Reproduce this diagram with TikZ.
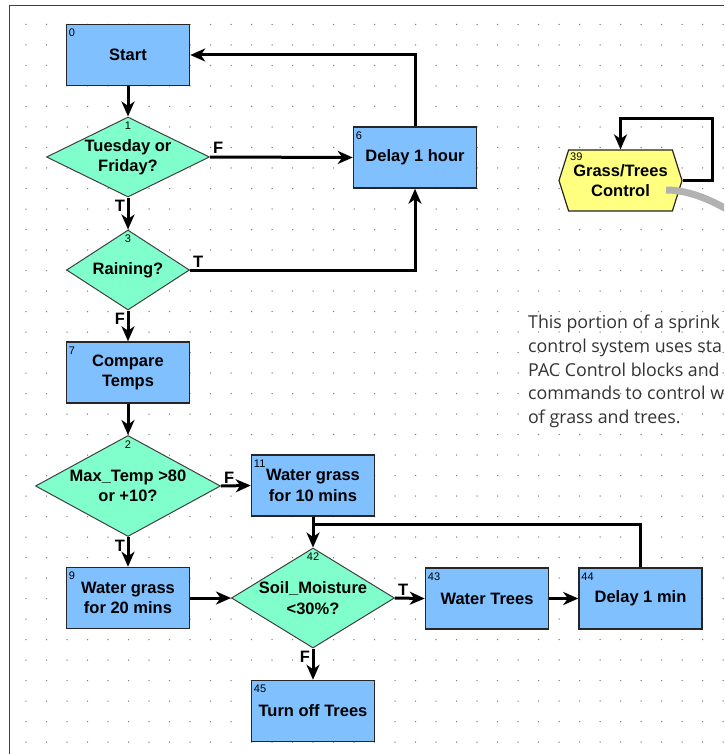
\documentclass[tikz,border=0pt]{standalone}
\usepackage{fontspec}
\setmainfont{Liberation Sans}
\newfontfamily\notefont{Open Sans}
\usetikzlibrary{arrows.meta, shapes.geometric, shapes.symbols}

\definecolor{blockblue}{RGB}{128,192,255}
\definecolor{condgreen}{RGB}{128,255,204}
\definecolor{chartyellow}{RGB}{255,255,128}
\newcommand{\blockfont}{\fontsize{16.5}{20.5}\selectfont\bfseries}

\begin{document}
\begin{tikzpicture}[
            x=1pt, y=-1pt,
            >={Stealth[length=15pt, width=13pt, inset=4.5pt]},
            block/.style={draw=black!85, line width=1.5pt, fill=blockblue, minimum width=123pt, minimum height=61pt, inner sep=0pt, align=center, font=\blockfont},
            cond/.style={diamond, draw=black!75, line width=1pt, fill=condgreen, inner sep=0pt},
            cond text/.style={align=center, inner sep=0pt, font=\blockfont},
            chart/.style={signal, signal to=west and east, signal pointer angle=145, draw=black!85, line width=1.2pt, fill=chartyellow, minimum width=123pt, minimum height=61pt, inner sep=0pt, align=center, font=\blockfont},
            num/.style={font=\fontsize{11}{11}\selectfont, inner xsep=3pt, inner ysep=5pt},
            flow/.style={->, line width=3pt},
            link/.style={line width=3pt},
            branch/.style={font=\fontsize{16.5}{16.5}\selectfont\bfseries, inner sep=1.5pt},
            note/.style={font=\notefont\fontsize{17.8}{23.7}\selectfont, text=black!80, align=left, inner sep=0pt},
        ]
        \useasboundingbox (0,0) rectangle (724,754);
        \clip (0,0) rectangle (724,754);

        % Drawing area: dot grid and frame.
        \foreach \gx in {0,...,34}
            \foreach \gy in {0,...,35}
                \fill[black!50] ({26+20.5*\gx},{24.5+20.5*\gy}) circle[radius=0.75];
        \draw[black!75, line width=1.8pt] (9.5,800) |- (800,5.5);

        % Chart blocks.
        \node[block, label={[num, anchor=north west]north west:0}] (n0) at (128,55) {Start};
        \node[cond, minimum width=163pt, minimum height=80pt, label={[num, anchor=north, inner ysep=5.5pt]north:1}] (d1) at (128,157) {};
        \node[cond text] (d1txt) at (d1) {Tuesday or\\Friday?};
        \node[block, label={[num, anchor=north west]north west:6}] (n6) at (415,157.5) {Delay 1 hour};
        \node[cond, minimum width=123pt, minimum height=80pt, label={[num, anchor=north, inner ysep=5.5pt]north:3}] (d3) at (128,270) {};
        \node[cond text] (d3txt) at (d3) {Raining?};
        \node[block, label={[num, anchor=north west]north west:7}] (n7) at (128,372.5) {Compare\\Temps};
        \node[cond, minimum width=185pt, minimum height=101pt, label={[num, anchor=north, inner ysep=5.5pt]north:2}] (d2) at (128,486) {};
        \node[cond text] (d2txt) at (d2) {Max\_Temp >80\\or +10?};
        \node[block, label={[num, anchor=north west]north west:11}] (n11) at (313,485.5) {Water grass\\for 10 mins};
        \node[block, label={[num, anchor=north west]north west:9}] (n9) at (128,598) {Water grass\\for 20 mins};
        \node[cond, minimum width=163pt, minimum height=100pt, label={[num, anchor=north, inner ysep=5.5pt]north:42}] (d42) at (313,598) {};
        \node[cond text] (d42txt) at (d42) {Soil\_Moisture\\<30\%?};
        \node[block, label={[num, anchor=north west]north west:43}] (n43) at (487,598.5) {Water Trees};
        \node[block, label={[num, anchor=north west]north west:44}] (n44) at (640.5,598.5) {Delay 1 min};
        \node[block, label={[num, anchor=north west]north west:45}] (n45) at (313,711) {Turn off Trees};

        % Subchart block.
        \node[chart] (n39) at (620.5,180.5) {Grass/Trees\\Control};
        \node[num, anchor=north west, inner sep=1pt] (n39num) at (569,152) {39};

        % Connectors.
        \draw[flow] (n0) -- (d1);
        \draw[flow] (d1.east) -- (n6.west) node[branch, pos=0, above right] {F};
        \draw[flow] (d1.south) -- (d3.north) node[branch, pos=0, below left] {T};
        \draw[flow] (d3.east) -| (n6.south) node[branch, pos=0, above right] {T};
        \draw[flow] (n6.north) |- (n0.east);
        \draw[flow] (d3.south) -- (n7.north) node[branch, pos=0, below left] {F};
        \draw[flow] (n7) -- (d2);
        \draw[flow] (d2.east) -- (n11.west) node[branch, pos=0, above right] {F};
        \draw[flow] (d2.south) -- (n9.north) node[branch, pos=0, below left] {T};
        \draw[flow] (n9.east) -- (d42.west);
        \draw[flow] (n11.south) -- (d42.north);
        \coordinate (join) at ([yshift=-8pt]n11.south);
        \draw[link] (n44.north) |- (join);
        \draw[flow] (d42.east) -- (n43.west) node[branch, pos=0, above right] {T};
        \draw[flow] (n43) -- (n44);
        \draw[flow] (d42.south) -- (n45.north) node[branch, pos=0, below left] {F};
        \draw[flow] (n39.east) -- ++(30,0) |- ([yshift=31pt]n39.north) -- (n39.north);

        % Callout bar leaving the subchart.
        \coordinate (callout) at (738,216);
        \draw[line width=7pt, black!30] ([shift={(45.5,9.5)}]n39.center) .. controls +(25,0) and +(-22,-14) .. (callout);

        \node[note, anchor=north west] (caption) at (528,315) {This portion of a sprink\\control system uses sta\\PAC Control blocks and\\commands to control w\\of grass and trees.};
        \end{tikzpicture}
\end{document}
